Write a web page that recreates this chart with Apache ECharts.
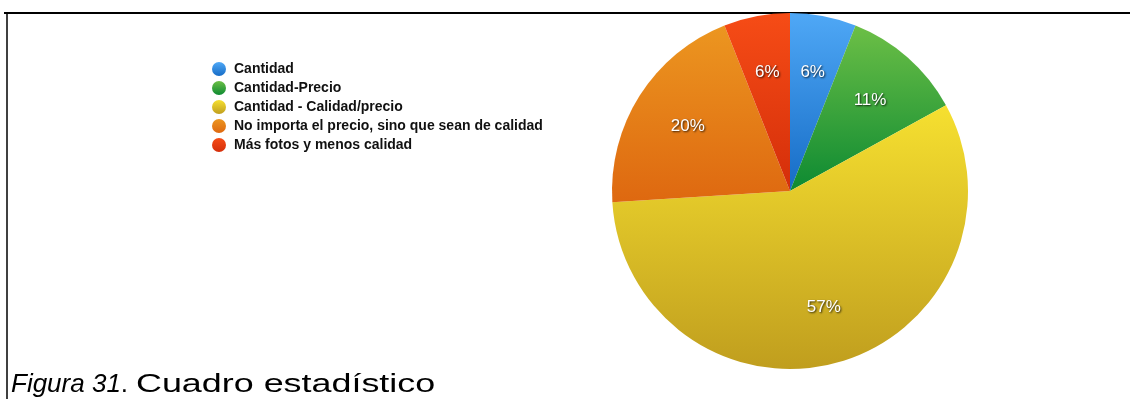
<!DOCTYPE html>
<html>
<head>
<meta charset="utf-8">
<script src="https://cdn.jsdelivr.net/npm/echarts@6/dist/echarts.min.js"></script>
<style>
  html, body { margin: 0; padding: 0; background: #fff; }
  #chart { width: 1130px; height: 399px; }
</style>
</head>
<body>
<div id="chart"></div>
<script>
// Survey answers and their shares (percent)
const categories = [
  'Cantidad',
  'Cantidad-Precio',
  'Cantidad - Calidad/precio',
  'No importa el precio, sino que sean de calidad',
  'Más fotos y menos calidad'
];
const values = [6, 11, 57, 20, 6];

// Slice colours: light top, dark bottom of each wedge
const topColors = ['#4fa8f6', '#6cbf46', '#f6e030', '#ec9620', '#f64c16'];
const bottomColors = ['#166cc6', '#0d8a32', '#c09e1e', '#de6810', '#d42e0a'];

const gradient = (i) => new echarts.graphic.LinearGradient(0, 0, 0, 1, [
  { offset: 0, color: topColors[i] },
  { offset: 1, color: bottomColors[i] }
]);

const pieData = categories.map((name, i) => ({
  name,
  value: values[i],
  itemStyle: { color: gradient(i) }
}));

const FONT = 'Liberation Sans, Arial, sans-serif';

const chart = echarts.init(document.getElementById('chart'), null, { renderer: 'canvas' });

chart.setOption({
  animation: false,
  backgroundColor: '#ffffff',
  legend: {
    orient: 'vertical',
    left: 207,
    top: 57,
    icon: 'circle',
    itemWidth: 14,
    itemHeight: 14,
    itemGap: 5,
    selectedMode: false,
    data: categories,
    textStyle: {
      color: '#111',
      fontFamily: FONT,
      fontSize: 14,
      fontWeight: 'bold',
      padding: [0, 0, 0, 3]
    }
  },
  series: [
    {
      type: 'pie',
      center: [790, 191],
      radius: [0, 178],
      startAngle: 90,
      clockwise: true,
      silent: true,
      label: { show: false },
      labelLine: { show: false },
      data: pieData
    },
    {
      // transparent ring used only to place the percentage labels
      type: 'pie',
      center: [790, 191],
      radius: [58, 178],
      startAngle: 90,
      clockwise: true,
      silent: true,
      itemStyle: { color: 'rgba(0,0,0,0)' },
      label: {
        show: true,
        position: 'inside',
        formatter: '{c}%',
        color: '#ffffff',
        fontFamily: FONT,
        fontSize: 17,
        textShadowColor: 'rgba(0,0,0,0.8)',
        textShadowBlur: 2,
        textShadowOffsetX: 1,
        textShadowOffsetY: 1
      },
      labelLine: { show: false },
      data: categories.map((name, i) => ({ name, value: values[i] }))
    }
  ],
  graphic: [
    {
      type: 'line',
      shape: { x1: 4, y1: 13, x2: 1130, y2: 13 },
      style: { stroke: '#000', lineWidth: 2 }
    },
    {
      type: 'line',
      shape: { x1: 7, y1: 12, x2: 7, y2: 399 },
      style: { stroke: '#000', lineWidth: 1.5 }
    },
    {
      type: 'text',
      x: 11,
      y: 372,
      style: {
        text: '{i|Figura 31}{n|.}',
        rich: {
          i: { fontStyle: 'italic', fontSize: 26, fontFamily: FONT, color: '#000' },
          n: { fontSize: 26, fontFamily: FONT, color: '#000' }
        }
      }
    },
    {
      // caption body
      type: 'text',
      x: 136,
      y: 372,
      scaleX: 1.38,
      style: {
        text: 'Cuadro estadístico',
        fontSize: 26,
        fontFamily: FONT,
        fill: '#000'
      }
    }
  ]
});
</script>
</body>
</html>
